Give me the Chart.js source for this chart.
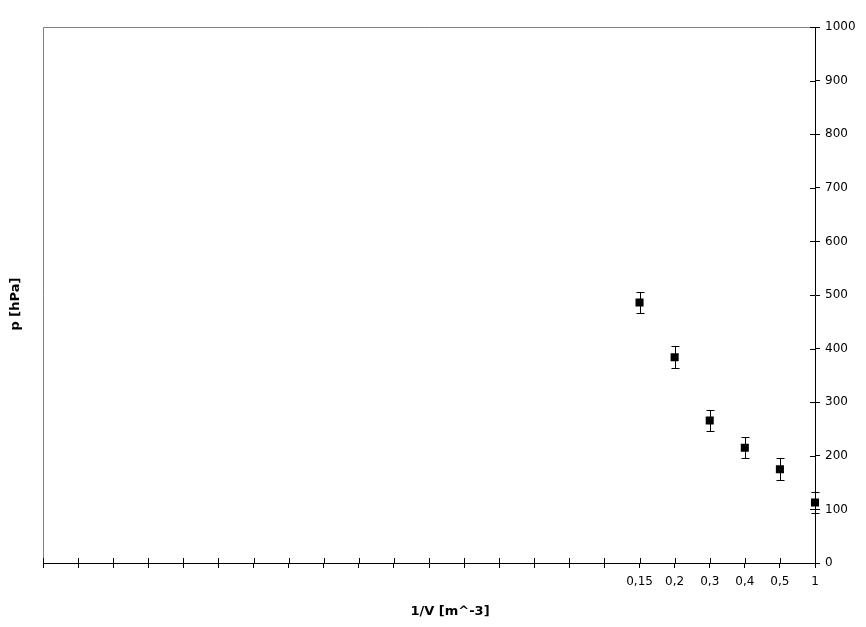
<!DOCTYPE html>
<html>
<head>
<meta charset="utf-8">
<script src="https://cdn.jsdelivr.net/npm/chart.js@4"></script>
<style>
  html, body { margin: 0; padding: 0; background: #fff; }
  #wrap { width: 866px; height: 627px; position: relative; }
</style>
</head>
<body>
<div id="wrap"><canvas id="c"></canvas></div>
<script>
// ---- data ----
const blankTickCount = 17;
const xLabels = ['0,15', '0,2', '0,3', '0,4', '0,5', '1'];
const pValues = [486, 384, 266, 215, 175, 113];
const pErrors = [20, 20, 20, 20, 20, 20];
const yTicks = { min: 0, max: 1000, step: 100 };
const xTitle = '1/V [m^-3]';
const yTitle = 'p [hPa]';

// build category labels / data arrays
const allLabels = Array(blankTickCount).fill('').concat(xLabels);
const allValues = Array(blankTickCount).fill(null).concat(pValues);
const allErrors = Array(blankTickCount).fill(null).concat(pErrors);

const FONT = "'DejaVu Sans', sans-serif";

const decorPlugin = {
  id: 'decor',
  beforeDatasetsDraw(chart) {
    const { ctx, chartArea: a, scales } = chart;
    ctx.save();
    // gray frame (top + left)
    ctx.strokeStyle = '#808080';
    ctx.lineWidth = 1;
    ctx.beginPath();
    ctx.moveTo(Math.round(a.left) + 0.5, Math.round(a.bottom));
    ctx.lineTo(Math.round(a.left) + 0.5, Math.round(a.top) + 0.5);
    ctx.lineTo(Math.round(a.right), Math.round(a.top) + 0.5);
    ctx.stroke();
    // inner tick parts
    ctx.strokeStyle = '#000';
    ctx.beginPath();
    const xs = scales.x;
    xs.ticks.forEach((t, i) => {
      const px = Math.round(xs.getPixelForTick(i)) + 0.5;
      ctx.moveTo(px, a.bottom);
      ctx.lineTo(px, a.bottom - 5);
    });
    const ys = scales.y;
    ys.ticks.forEach((t, i) => {
      const py = Math.round(ys.getPixelForTick(i)) + 0.5;
      ctx.moveTo(a.right, py);
      ctx.lineTo(a.right - 5, py);
    });
    ctx.stroke();
    // axis titles
    ctx.fillStyle = '#000';
    ctx.font = "bold 13px " + FONT;
    ctx.textAlign = 'center';
    ctx.textBaseline = 'middle';
    ctx.fillText(xTitle, (a.left + a.right) / 2 + 21, 612);
    ctx.translate(16, (a.top + a.bottom) / 2 + 9);
    ctx.rotate(-Math.PI / 2);
    ctx.fillText(yTitle, 0, 0);
    ctx.restore();
  },
  afterDatasetsDraw(chart) {
    const { ctx, scales } = chart;
    const xs = scales.x, ys = scales.y;
    ctx.save();
    ctx.strokeStyle = '#000';
    ctx.lineWidth = 1;
    ctx.beginPath();
    allValues.forEach((v, i) => {
      if (v === null) return;
      const e = allErrors[i];
      const px = Math.round(xs.getPixelForValue(i)) + 0.5;
      const top = Math.round(ys.getPixelForValue(v + e)) + 0.5;
      const bot = Math.round(ys.getPixelForValue(v - e)) + 0.5;
      ctx.moveTo(px, top); ctx.lineTo(px, bot);
      ctx.moveTo(px - 4, top); ctx.lineTo(px + 4, top);
      ctx.moveTo(px - 4, bot); ctx.lineTo(px + 4, bot);
    });
    ctx.stroke();
    ctx.restore();
  }
};

new Chart(document.getElementById('c'), {
  type: 'line',
  data: {
    labels: allLabels,
    datasets: [{
      data: allValues,
      showLine: false,
      pointStyle: 'rect',
      pointRadius: 5.7,
      pointHoverRadius: 5.7,
      backgroundColor: '#000',
      borderColor: '#000',
      borderWidth: 0
    }]
  },
  options: {
    responsive: true,
    maintainAspectRatio: false,
    animation: false,
    events: [],
    layout: { padding: { top: 27, left: 43, right: 0, bottom: 0 } },
    plugins: { legend: { display: false }, tooltip: { enabled: false } },
    scales: {
      x: {
        type: 'category',
        offset: false,
        grid: { drawOnChartArea: false, tickLength: 5, color: '#000' },
        border: { display: true, color: '#000' },
        ticks: {
          autoSkip: false, maxRotation: 0, minRotation: 0, padding: 7,
          color: '#000', font: { family: FONT, size: 12 }
        },
        afterFit(s) { s.height = 64; }
      },
      y: {
        position: 'right',
        min: yTicks.min, max: yTicks.max,
        grid: { drawOnChartArea: false, tickLength: 5, color: '#000' },
        border: { display: true, color: '#000' },
        ticks: {
          stepSize: yTicks.step, padding: 5, color: '#000',
          font: { family: FONT, size: 12 },
          callback: v => String(v)
        },
        afterFit(s) { s.width = 51; }
      }
    }
  },
  plugins: [decorPlugin]
});
</script>
</body>
</html>
